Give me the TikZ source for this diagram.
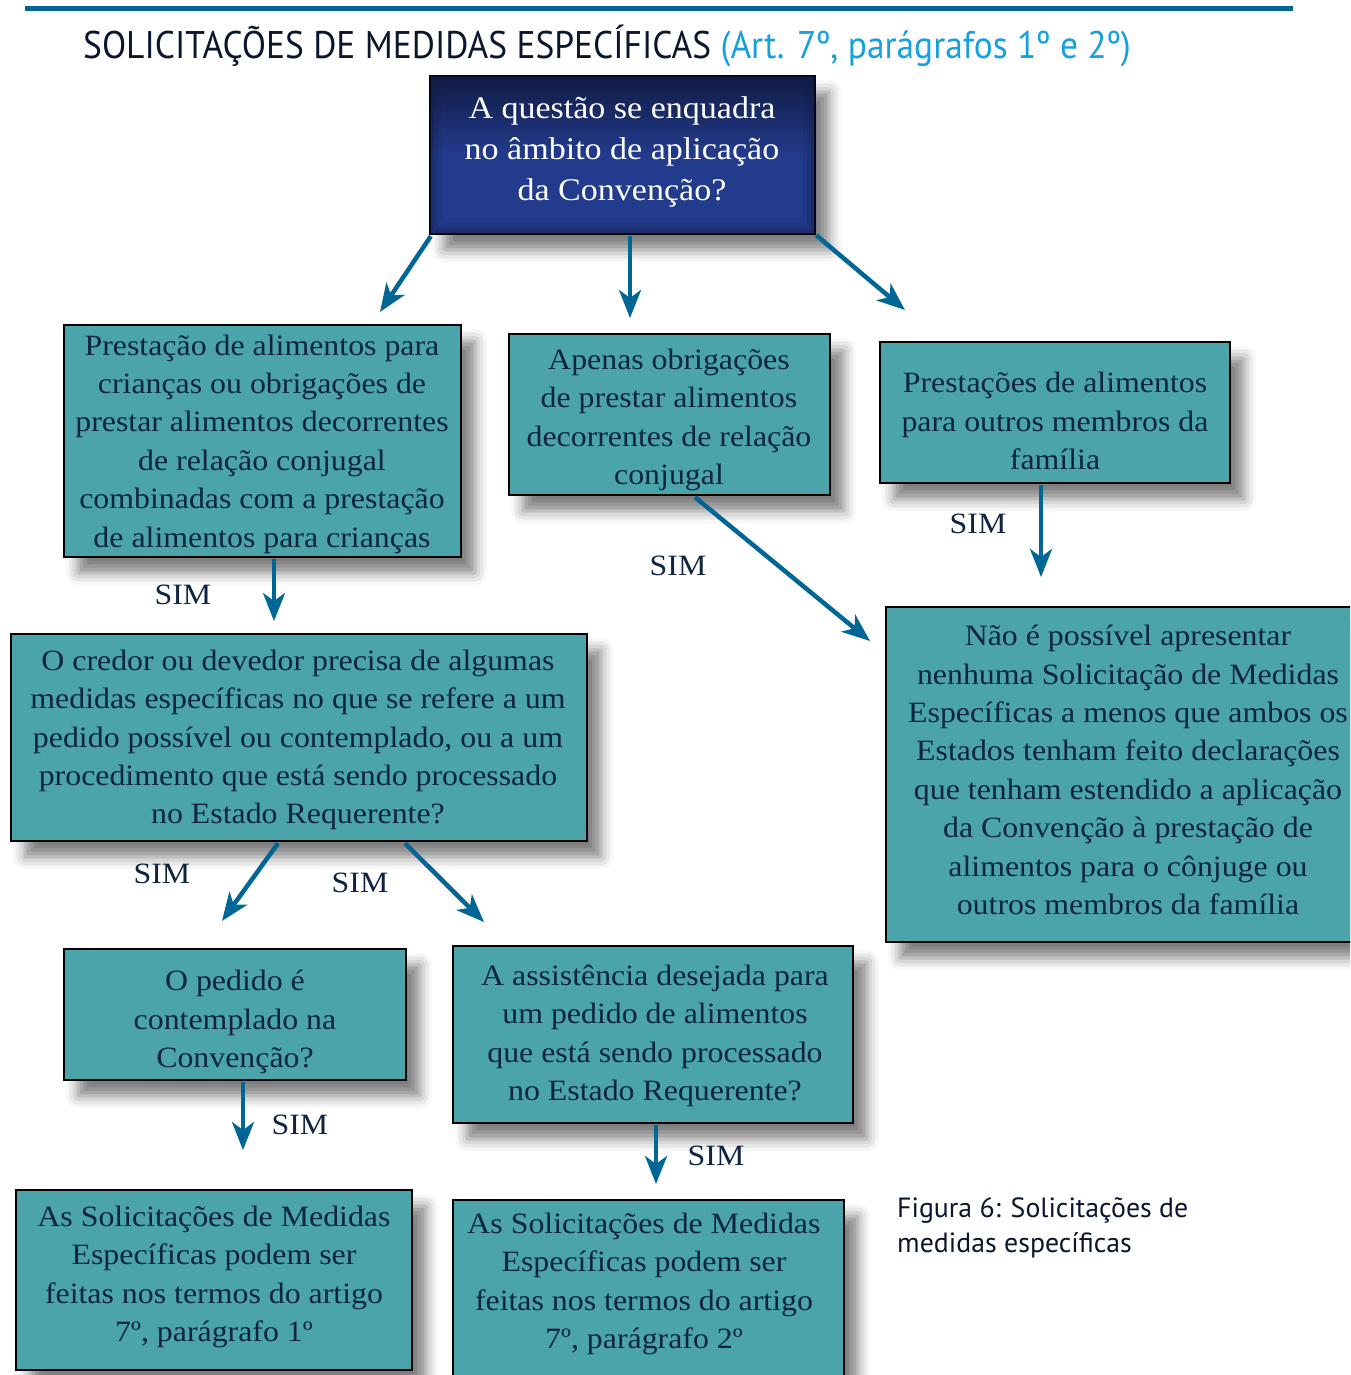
\documentclass[tikz,border=0pt]{standalone}
\usepackage{fontspec}
\setmainfont[FakeStretch=1.08]{Liberation Serif}
\newfontfamily\capfont{PT Sans}
\newfontfamily\headfont[FakeStretch=0.92]{PT Sans}
\usetikzlibrary{arrows.meta,shadows.blur,calc}

\definecolor{tealbox}{RGB}{74,164,170}
\definecolor{navytext}{RGB}{14,36,64}
\definecolor{arrowblue}{RGB}{0,102,150}
\definecolor{deepblueA}{RGB}{16,27,68}
\definecolor{deepblueB}{RGB}{35,59,140}
\definecolor{headdark}{RGB}{10,22,45}
\definecolor{headblue}{RGB}{22,160,220}

\newcommand\bodytext{\fontsize{29.5pt}{38.4pt}\selectfont}
\newcommand\toptext{\fontsize{31.5pt}{41pt}\selectfont}

\begin{document}
\begin{tikzpicture}[x=1pt,y=-1pt,
  boxshadow/.style={blur shadow={shadow xshift=14pt,shadow yshift=-16pt,
      shadow blur radius=12pt,shadow opacity=50}},
  box/.style={rectangle,draw=black,line width=2.5pt,fill=tealbox,
      inner sep=0pt,boxshadow},
  topbox/.style={rectangle,draw=black,line width=2.5pt,inner sep=0pt,
      top color=deepblueA,bottom color=deepblueB,middle color=deepblueB,boxshadow},
  txt/.style={align=center,font=\bodytext,text=navytext,inner sep=0pt},
  simlabel/.style={font=\bodytext,text=navytext,inner sep=0pt},
  arr/.style={draw=arrowblue,line width=4.5pt,
      -{Stealth[length=28pt,width=22pt,inset=8pt]}}]

\useasboundingbox (0,0) rectangle (1350,1375);
\clip (0,0) rectangle (1350,1375);

% heading rule and title
\draw[arrowblue,line width=5pt] (25,9) -- (1293,9);
\node[anchor=base west,inner sep=0pt,font=\headfont\fontsize{38.5pt}{44pt}\selectfont]
  (title) at (83,59)
  {\textcolor{headdark}{SOLICITAÇÕES DE MEDIDAS ESPECÍFICAS} \textcolor{headblue}{(Art. 7º, parágrafos 1º e 2º)}};

% boxes
\node[topbox,minimum width=385pt,minimum height=158pt] (b1) at (622.5,155) {};
% darker rim inside the question box
\foreach \d/\o in {3/0.45,7/0.25,11/0.12}
  \draw[deepblueA,line width=4pt,opacity=\o]
    ($(b1.north west)+(\d,\d)$) rectangle ($(b1.south east)+(-\d,-\d)$);
\node[box,minimum width=397pt,minimum height=232pt] (b2) at (262.5,441) {};
\node[box,minimum width=321pt,minimum height=161pt] (b3) at (669.5,414.5) {};
\node[box,minimum width=350pt,minimum height=141pt] (b4) at (1055,412.5) {};
\node[box,minimum width=576pt,minimum height=207pt] (b5) at (299,737.5) {};
\node[box,minimum width=484pt,minimum height=335pt] (b6) at (1128,774.5) {};
\node[box,minimum width=342pt,minimum height=131pt] (b7) at (235,1014.5) {};
\node[box,minimum width=400pt,minimum height=177pt] (b8) at (653,1034.5) {};
\node[box,minimum width=396pt,minimum height=180pt] (b9) at (214,1280) {};
\node[box,minimum width=391pt,minimum height=190pt] (b10) at (648.5,1295) {};

% box texts
\node[align=center,font=\toptext,text=white,inner sep=0pt] (t1) at (622,152)
  {A questão se enquadra\\no âmbito de aplicação\\da Convenção?};
\node[txt] (t2) at (262,444)
  {Prestação de alimentos para\\crianças ou obrigações de\\prestar alimentos decorrentes\\de relação conjugal\\combinadas com a prestação\\de alimentos para crianças};
\node[txt] (t3) at (669,420)
  {Apenas obrigações\\de prestar alimentos\\decorrentes de relação\\conjugal};
\node[txt] (t4) at (1055,421)
  {Prestações de alimentos\\para outros membros da\\família};
\node[txt] (t5) at (298,740)
  {O credor ou devedor precisa de algumas\\medidas específicas no que se refere a um\\pedido possível ou contemplado, ou a um\\procedimento que está sendo processado\\no Estado Requerente?};
\node[txt] (t6) at (1128,770)
  {Não é possível apresentar\\nenhuma Solicitação de Medidas\\Específicas a menos que ambos os\\Estados tenham feito declarações\\que tenham estendido a aplicação\\da Convenção à prestação de\\alimentos para o cônjuge ou\\outros membros da família};
\node[txt] (t7) at (235,1022)
  {O pedido é\\contemplado na\\Convenção?};
\node[txt] (t8) at (655,1036)
  {A assistência desejada para\\um pedido de alimentos\\que está sendo processado\\no Estado Requerente?};
\node[txt] (t9) at (214,1277)
  {As Solicitações de Medidas\\Específicas podem ser\\feitas nos termos do artigo\\7º, parágrafo 1º};
\node[txt] (t10) at (644,1284)
  {As Solicitações de Medidas\\Específicas podem ser\\feitas nos termos do artigo\\7º, parágrafo 2º};

% free arrow ends
\coordinate (e1) at (380,312);
\coordinate (e2) at (630,318);
\coordinate (e3) at (905,310);
\coordinate (e4) at (274,621);
\coordinate (e5) at (870,641);
\coordinate (e6) at (1041,577);
\coordinate (e7) at (222,921);
\coordinate (e8) at (484,922);
\coordinate (e9) at (243,1150);
\coordinate (e10) at (656,1184);

% connectors
\draw[arr] ($(b1.south west)+(2,1)$) -- (e1);
\draw[arr] ($(b1.south)+(7.5,1)$) -- (e2);
\draw[arr] ($(b1.south east)+(0,0)$) -- (e3);
\draw[arr] ($(b2.south)+(11.5,1)$) -- (e4);
\draw[arr] ($(b3.south)+(25.5,1)$) -- (e5);
\draw[arr] ($(b4.south)+(-14,1)$) -- (e6);
\draw[arr] ($(b5.south)+(-21,1)$) -- (e7);
\draw[arr] ($(b5.south)+(106,1)$) -- (e8);
\draw[arr] ($(b7.south)+(8,1)$) -- (e9);
\draw[arr] ($(b8.south)+(3,1)$) -- (e10);

% answer labels
\node[simlabel] (s1) at (183,595) {SIM};
\node[simlabel] (s2) at (678,566) {SIM};
\node[simlabel] (s3) at (978,524) {SIM};
\node[simlabel] (s4) at (162,874) {SIM};
\node[simlabel] (s5) at (360,883) {SIM};
\node[simlabel] (s6) at (300,1125) {SIM};
\node[simlabel] (s7) at (716,1156) {SIM};

% figure caption
\node[anchor=base west,align=left,inner sep=0pt,text=headdark,
  font=\capfont\fontsize{27.8pt}{35pt}\selectfont] (cap) at (897,1252)
  {Figura 6: Solicitações de\\medidas específicas};
\end{tikzpicture}
\end{document}
